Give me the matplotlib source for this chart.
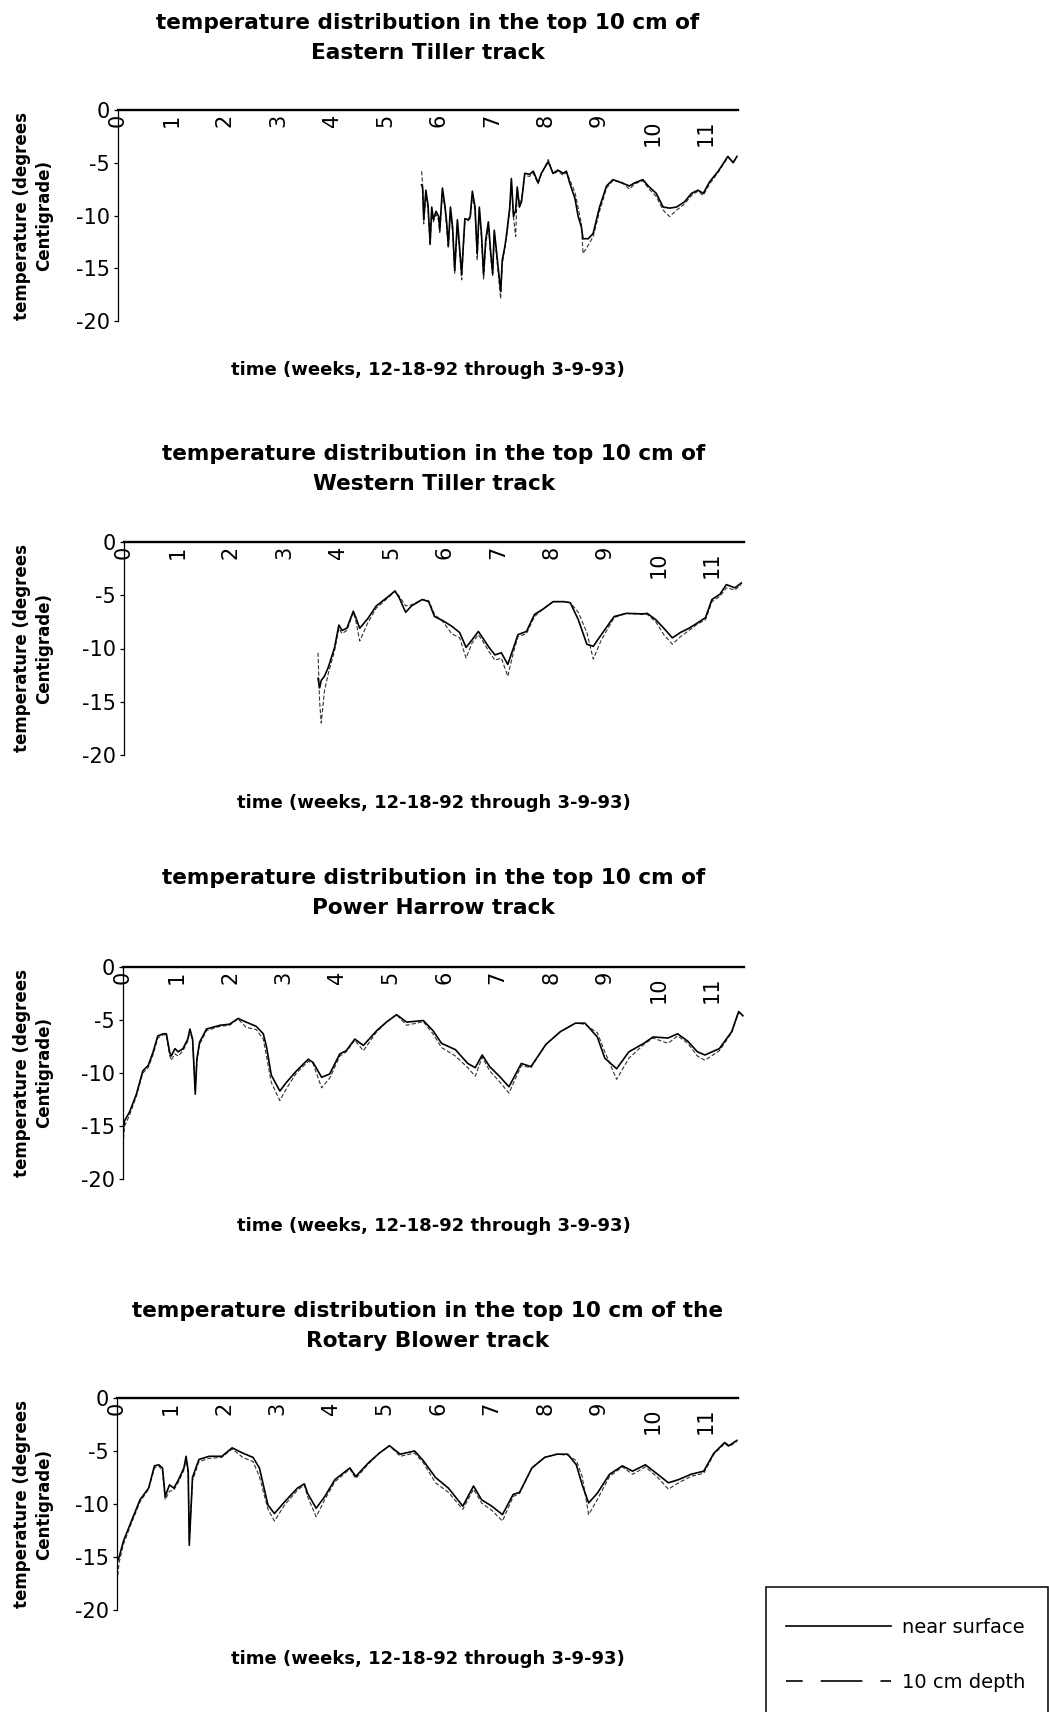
import matplotlib
matplotlib.use('Agg')
import matplotlib.pyplot as plt
from matplotlib.lines import Line2D
from matplotlib.patches import Rectangle
from matplotlib.transforms import ScaledTranslation

plt.rcParams['font.family'] = ['DejaVu Sans']
plt.rcParams['lines.scale_dashes'] = False

# weeks since 12-18-92, temperature in deg C (near surface / 10 cm depth)
east_wk = [5.68, 5.70, 5.72, 5.76, 5.80, 5.84, 5.87, 5.90, 5.95, 6.00, 6.02, 6.07, 6.12, 6.15,
           6.18, 6.22, 6.26, 6.30, 6.35, 6.38, 6.43, 6.46, 6.49, 6.55, 6.59, 6.63, 6.68, 6.72,
           6.76, 6.80, 6.84, 6.88, 6.93, 6.97, 7.01, 7.04, 7.08, 7.11, 7.16, 7.19, 7.24, 7.28,
           7.33, 7.36, 7.40, 7.44, 7.47, 7.51, 7.55, 7.61, 7.70, 7.77, 7.86, 7.92, 8.05, 8.14,
           8.23, 8.33, 8.39, 8.45, 8.55, 8.61, 8.67, 8.70, 8.80, 8.89, 9.01, 9.14, 9.26, 9.42,
           9.57, 9.67, 9.82, 9.92, 10.07, 10.20, 10.32, 10.45, 10.60, 10.73, 10.85, 10.95,
           11.07, 11.23, 11.41, 11.51, 11.58]
east_surf = [-7.1, -7.4, -10.4, -7.6, -9.0, -12.6, -9.2, -10.4, -9.6, -10.1, -11.4, -7.4, -9.2, -10.7,
             -12.9, -9.2, -11.1, -15.2, -10.4, -12.3, -15.6, -12.9, -10.3, -10.4, -10.1, -7.7, -9.2, -13.6,
             -9.2, -11.7, -15.6, -12.3, -10.6, -13.3, -15.5, -11.4, -13.3, -14.8, -17.2, -14.2, -12.9, -11.4,
             -9.2, -6.5, -10.1, -9.5, -7.3, -9.2, -8.7, -6.0, -6.1, -5.8, -6.9, -6.0, -4.9, -6.0,
             -5.7, -6.0, -5.8, -6.9, -8.4, -10.1, -11.1, -12.2, -12.2, -11.7, -9.2, -7.2, -6.6, -6.9,
             -7.2, -6.9, -6.6, -7.2, -7.9, -9.2, -9.3, -9.2, -8.7, -7.9, -7.6, -7.9,
             -6.8, -5.8, -4.4, -5.0, -4.4]
east_10cm = [-5.8, -7.1, -10.8, -7.9, -9.4, -12.9, -9.6, -10.6, -9.9, -10.5, -11.6, -7.8, -9.5, -11.2,
             -13.1, -9.6, -11.6, -15.5, -10.9, -12.7, -16.1, -13.2, -10.6, -10.5, -10.3, -8.1, -9.6, -14.2,
             -9.5, -12.1, -16.1, -12.8, -10.9, -13.8, -15.8, -11.8, -13.7, -15.3, -17.9, -14.6, -13.0, -11.6,
             -9.5, -6.9, -10.2, -12.0, -7.6, -8.9, -8.5, -6.2, -6.3, -6.0, -7.0, -6.1, -4.7, -6.1,
             -5.8, -6.2, -5.9, -6.6, -7.8, -9.3, -10.8, -13.6, -12.8, -12.0, -9.6, -7.4, -6.7, -6.8,
             -7.5, -7.0, -6.7, -7.4, -8.2, -9.5, -10.1, -9.5, -8.9, -8.1, -7.7, -8.1,
             -7.0, -5.9, -4.5, -4.9, -4.5]

west_wk = [3.63, 3.66, 3.69, 3.75, 3.82, 3.94, 4.02, 4.08, 4.17, 4.29, 4.33, 4.41, 4.56, 4.72,
           4.95, 5.07, 5.15, 5.27, 5.38, 5.58, 5.70, 5.81, 5.97, 6.13, 6.28, 6.40, 6.51, 6.63,
           6.71, 6.83, 6.94, 7.06, 7.18, 7.29, 7.37, 7.53, 7.68, 7.84, 8.03, 8.23, 8.35, 8.50,
           8.66, 8.78, 8.93, 9.17, 9.40, 9.71, 9.79, 9.95, 10.10, 10.26, 10.41, 10.57, 10.73,
           10.88, 11.00, 11.15, 11.27, 11.43, 11.55]
west_surf = [-12.8, -13.7, -13.0, -12.6, -11.8, -9.9, -7.8, -8.3, -8.1, -6.5, -7.0, -8.1, -7.2, -6.0,
             -5.1, -4.6, -5.25, -6.6, -6.0, -5.4, -5.6, -7.0, -7.4, -7.9, -8.5, -9.9, -9.2, -8.4,
             -9.0, -9.9, -10.6, -10.4, -11.5, -9.9, -8.7, -8.4, -6.8, -6.3, -5.6, -5.6, -5.7, -7.3,
             -9.6, -9.8, -8.7, -7.0, -6.7, -6.75, -6.7, -7.3, -8.1, -9.0, -8.5, -8.1, -7.6,
             -7.1, -5.4, -4.9, -4.0, -4.3, -3.85]
west_10cm = [-10.4, -15.0, -17.0, -14.0, -12.4, -10.2, -8.1, -8.6, -8.3, -6.6, -7.2, -9.3, -7.6, -6.2,
             -5.2, -4.6, -5.1, -6.0, -5.9, -5.4, -5.5, -6.8, -7.5, -8.6, -9.0, -10.9, -9.5, -8.7,
             -9.3, -10.3, -11.1, -10.9, -12.6, -10.3, -8.9, -8.6, -7.0, -6.3, -5.6, -5.6, -5.7, -6.6,
             -8.5, -11.0, -9.2, -7.1, -6.7, -6.8, -6.8, -7.5, -8.7, -9.6, -8.9, -8.3, -7.7,
             -7.3, -5.6, -5.1, -4.3, -4.5, -4.0]

harrow_wk = [0.00, 0.03, 0.12, 0.25, 0.37, 0.47, 0.56, 0.65, 0.75, 0.81, 0.87, 0.90, 0.97, 1.03,
             1.12, 1.21, 1.25, 1.30, 1.35, 1.38, 1.43, 1.56, 1.81, 1.99, 2.15, 2.30, 2.49, 2.62,
             2.68, 2.77, 2.93, 3.05, 3.24, 3.46, 3.55, 3.71, 3.86, 4.05, 4.17, 4.33, 4.49, 4.74,
             4.92, 5.11, 5.30, 5.61, 5.79, 5.95, 6.21, 6.44, 6.58, 6.71, 6.85, 7.03, 7.21, 7.44,
             7.62, 7.90, 8.17, 8.45, 8.63, 8.86, 9.00, 9.22, 9.45, 9.73, 9.90, 10.18, 10.36,
             10.55, 10.73, 10.87, 11.14, 11.37, 11.50, 11.58]
harrow_surf = [-15.5, -14.5, -13.7, -12.0, -9.8, -9.3, -8.05, -6.5, -6.3, -6.3, -8.0, -8.4, -7.7, -8.0,
               -7.7, -6.8, -5.85, -6.8, -12.0, -8.7, -7.1, -5.85, -5.5, -5.4, -4.85, -5.2, -5.6, -6.3,
               -7.5, -10.2, -11.7, -10.9, -9.8, -8.7, -9.0, -10.4, -10.1, -8.2, -7.9, -6.8, -7.4, -6.0,
               -5.2, -4.5, -5.2, -5.05, -6.0, -7.2, -7.8, -9.1, -9.5, -8.3, -9.4, -10.3, -11.3, -9.1,
               -9.4, -7.3, -6.1, -5.3, -5.3, -6.6, -8.6, -9.6, -8.0, -7.2, -6.6, -6.7, -6.3,
               -7.0, -8.0, -8.3, -7.7, -6.1, -4.2, -4.6]
harrow_10cm = [-16.8, -15.0, -14.0, -12.2, -10.0, -9.5, -8.3, -6.7, -6.4, -6.4, -8.3, -8.8, -8.2, -8.4,
               -7.9, -7.0, -6.0, -7.0, -11.5, -8.9, -7.3, -6.0, -5.6, -5.5, -4.9, -5.7, -5.9, -6.8,
               -8.4, -10.9, -12.6, -11.5, -10.0, -8.9, -9.1, -11.4, -10.5, -8.4, -8.0, -6.9, -7.9, -6.1,
               -5.2, -4.5, -5.5, -5.15, -6.3, -7.6, -8.4, -9.5, -10.3, -8.5, -9.8, -10.8, -11.9, -9.3,
               -9.5, -7.3, -6.1, -5.3, -5.4, -6.2, -8.0, -10.6, -8.6, -7.3, -6.7, -7.2, -6.5,
               -7.2, -8.4, -8.8, -7.9, -6.2, -4.3, -4.6]

blower_wk = [0.00, 0.04, 0.12, 0.27, 0.43, 0.59, 0.70, 0.78, 0.85, 0.90, 0.98, 1.06, 1.14, 1.25,
             1.29, 1.33, 1.35, 1.41, 1.53, 1.72, 1.96, 2.15, 2.35, 2.54, 2.66, 2.82, 2.94, 3.13,
             3.37, 3.50, 3.56, 3.72, 3.88, 4.07, 4.35, 4.46, 4.70, 4.90, 5.09, 5.29, 5.56, 5.72,
             5.95, 6.19, 6.46, 6.66, 6.81, 7.00, 7.20, 7.40, 7.52, 7.75, 7.99, 8.22, 8.42, 8.58,
             8.69, 8.81, 8.97, 9.20, 9.44, 9.63, 9.87, 10.10, 10.30, 10.49, 10.72, 10.96, 11.15,
             11.35, 11.43, 11.58]
blower_surf = [-15.5, -15.0, -13.5, -11.6, -9.6, -8.5, -6.4, -6.3, -6.6, -9.3, -8.2, -8.5, -7.8, -6.6,
               -5.5, -6.9, -13.9, -7.5, -5.8, -5.5, -5.5, -4.7, -5.2, -5.6, -6.6, -10.1, -10.9, -9.8,
               -8.5, -8.1, -9.0, -10.4, -9.3, -7.7, -6.6, -7.4, -6.1, -5.2, -4.5, -5.3, -5.0, -5.9,
               -7.5, -8.5, -10.2, -8.3, -9.6, -10.2, -11.0, -9.1, -8.9, -6.6, -5.6, -5.3, -5.3, -6.3,
               -8.2, -9.9, -9.0, -7.2, -6.4, -6.9, -6.3, -7.2, -8.0, -7.7, -7.2, -6.9, -5.2,
               -4.2, -4.5, -4.0]
blower_10cm = [-17.3, -15.5, -13.8, -11.8, -9.8, -8.6, -6.6, -6.4, -6.9, -9.6, -8.8, -8.7, -8.0, -6.8,
               -5.7, -7.2, -13.5, -7.8, -6.0, -5.7, -5.6, -4.8, -5.6, -6.0, -7.4, -10.5, -11.6, -10.1,
               -8.7, -8.2, -9.3, -11.2, -9.6, -7.9, -6.7, -7.6, -6.2, -5.2, -4.5, -5.5, -5.2, -6.1,
               -8.0, -8.9, -10.5, -8.6, -9.9, -10.6, -11.6, -9.3, -9.0, -6.6, -5.6, -5.3, -5.4, -5.9,
               -7.4, -11.0, -9.6, -7.4, -6.5, -7.2, -6.5, -7.5, -8.6, -8.0, -7.4, -7.1, -5.3,
               -4.3, -4.6, -4.1]

titles = ['temperature distribution in the top 10 cm of\nEastern Tiller track',
          'temperature distribution in the top 10 cm of\nWestern Tiller track',
          'temperature distribution in the top 10 cm of\nPower Harrow track',
          'temperature distribution in the top 10 cm of the\nRotary Blower track']
week_ticks = list(range(12))
temp_ticks = [0, -5, -10, -15, -20]
xlabel = 'time (weeks, 12-18-92 through 3-9-93)'
ylabel = 'temperature (degrees\nCentigrade)'
legend_labels = ['near surface', '10 cm depth']

series = [(east_wk, east_surf, east_10cm),
          (west_wk, west_surf, west_10cm),
          (harrow_wk, harrow_surf, harrow_10cm),
          (blower_wk, blower_surf, blower_10cm)]

W, H = 1049, 1712
fig = plt.figure(figsize=(W / 100, H / 100), dpi=100)

# pixel boxes of the four panels: left, right, top(0 line), bottom(-20)
boxes = [(118, 738, 110, 321), (124, 744, 542, 755), (123, 744, 967, 1179), (117, 738, 1398, 1610)]
title_y = [38, 469, 893, 1326]
xlab_y = [370, 803, 1226, 1659]

for (wk, surf, deep), (l, r, t, b), title, ty, xy in zip(series, boxes, titles, title_y, xlab_y):
    ax = fig.add_axes([l / W, 1 - b / H, (r - l) / W, (b - t) / H])
    ax.plot(wk, deep, color='0.2', lw=0.8, linestyle=(0, (3, 1.5)))
    ax.plot(wk, surf, color='black', lw=1.2)
    ax.set_xlim(0, 11.6)
    ax.set_ylim(-20, 0)
    for s in ['right', 'bottom']:
        ax.spines[s].set_visible(False)
    ax.spines['top'].set_linewidth(1.7)
    ax.spines['left'].set_linewidth(0.9)
    ax.tick_params(axis='x', bottom=False, top=False, labelbottom=False, labeltop=True,
                   labelrotation=90, pad=-6, labelsize=15)
    ax.tick_params(axis='y', direction='out', length=3, width=0.9, pad=3, labelsize=15)
    ax.set_xticks(week_ticks)
    ax.set_xticklabels([str(w) for w in week_ticks])
    for w, tk in zip(week_ticks, ax.xaxis.get_major_ticks()):
        tk.label2.set_verticalalignment('top')
        if w >= 10:
            tk.label2.set_transform(tk.label2.get_transform() +
                                    ScaledTranslation(0, -0.06, fig.dpi_scale_trans))
    ax.set_yticks(temp_ticks)
    ax.set_yticklabels([str(v) for v in temp_ticks])

    cx = (l + r) / 2
    fig.text(cx / W, 1 - ty / H, title, ha='center', va='center', fontsize=15.6,
             fontweight='bold', linespacing=1.6, multialignment='center')
    fig.text(cx / W, 1 - xy / H, xlabel, ha='center', va='center', fontsize=13, fontweight='bold')
    fig.text(33 / W, 1 - (t + b) / 2 / H, ylabel, ha='center', va='center', rotation=90,
             fontsize=12, fontweight='bold', linespacing=1.3, multialignment='center')

# legend box runs off the bottom of the page, as in the scan
fig.patches.append(Rectangle((766 / W, -0.01), 282 / W, 0.01 + 1 - 1587 / H,
                             transform=fig.transFigure, fill=False, edgecolor='black', lw=1.1))
handles = [Line2D([], [], color='black', lw=1.2),
           Line2D([], [], color='black', lw=1.2, linestyle=(18, (30, 13)))]
fig.legend(handles, legend_labels, loc='upper left',
           bbox_to_anchor=(786 / W, 1 - 1618 / H), fontsize=14, frameon=False,
           handlelength=5.4, handletextpad=0.55, borderpad=0, labelspacing=1.85,
           borderaxespad=0)

fig.savefig('out.png', dpi=100, facecolor='white')
